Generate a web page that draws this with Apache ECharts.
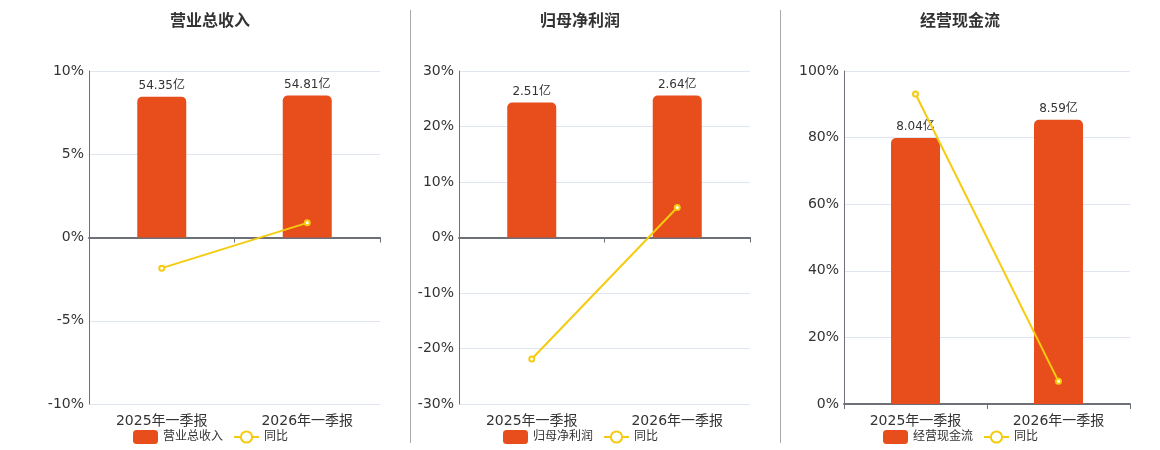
<!DOCTYPE html>
<html>
<head>
<meta charset="utf-8">
<script src="https://cdn.jsdelivr.net/npm/echarts@6/dist/echarts.min.js"></script>
<style>
html,body{margin:0;padding:0;background:#fff;}
#main{width:1160px;height:450px;}
</style>
</head>
<body>
<div id="main"></div>
<script>
var categories = ['2025年一季报', '2026年一季报'];
var titles = ['营业总收入', '归母净利润', '经营现金流'];
var revenue = [54.35, 54.81];
var revenueYoY = [-1.84, 0.88];
var profit = [2.51, 2.64];
var profitYoY = [-21.9, 5.4];
var cashflow = [8.04, 8.59];
var cashflowYoY = [93.1, 6.8];
var pctMin = [-10, -30, 0];
var pctMax = [10, 30, 100];
var pctInterval = [5, 10, 20];

var barColor = '#E84D1C';
var lineColor = '#F5CB0F';
var barSets = [revenue, profit, cashflow];
var yoySets = [revenueYoY, profitYoY, cashflowYoY];

var gridLeft = [89, 459, 844];
var gridWidth = [291, 291, 286];
var centers = [210, 580, 960];

var option = {
  animation: false,
  backgroundColor: '#fff',
  textStyle: {fontFamily: 'DejaVu Sans, Noto Sans CJK SC, sans-serif'},
  title: [], grid: [], xAxis: [], yAxis: [], series: [], legend: [],
  graphic: [
    {type: 'line', shape: {x1: 410.5, y1: 10, x2: 410.5, y2: 443}, style: {stroke: '#aaaaaa', lineWidth: 1}},
    {type: 'line', shape: {x1: 780.5, y1: 10, x2: 780.5, y2: 443}, style: {stroke: '#aaaaaa', lineWidth: 1}}
  ]
};

for (var i = 0; i < 3; i++) {
  option.title.push({
    text: titles[i], left: centers[i] - 40, top: 14, padding: 0,
    textStyle: {fontSize: 16, fontWeight: 'bold', color: '#333'}
  });
  option.grid.push({left: gridLeft[i], width: gridWidth[i], top: 71, height: 333});
  // label axis (bottom)
  option.xAxis.push({
    type: 'category', gridIndex: i, data: categories,
    axisLine: {show: false, onZero: false}, axisTick: {show: false},
    axisLabel: {fontSize: 14, color: '#333', margin: 10}
  });
  // line axis on zero
  option.xAxis.push({
    type: 'category', gridIndex: i, data: categories, position: 'bottom',
    axisLine: {show: true, onZero: true, onZeroAxisIndex: i * 2, lineStyle: {color: '#6e7079', width: 2}},
    axisTick: {show: true, lineStyle: {color: '#6e7079'}},
    axisLabel: {show: false}
  });
  option.yAxis.push({
    type: 'value', gridIndex: i, min: pctMin[i], max: pctMax[i], interval: pctInterval[i],
    axisLine: {show: true, lineStyle: {color: '#6e7079'}}, axisTick: {show: false},
    axisLabel: {formatter: '{value}%', fontSize: 14, color: '#333', margin: 5},
    splitLine: {lineStyle: {color: '#e0e6f1'}}
  });
  var bmax = Math.max.apply(null, barSets[i]) * 1.172;
  option.yAxis.push({
    type: 'value', gridIndex: i, min: pctMin[i] < 0 ? -bmax : 0, max: bmax, show: false,
    splitLine: {show: false}
  });
  option.series.push({
    name: titles[i], type: 'bar', xAxisIndex: i * 2, yAxisIndex: i * 2 + 1,
    data: barSets[i], barWidth: 49,
    itemStyle: {color: barColor, borderRadius: [5, 5, 0, 0]},
    label: {show: true, position: 'top', color: '#333', fontSize: 12,
      formatter: function (p) { return p.value + '亿'; }}
  });
  option.series.push({
    name: '同比', type: 'line', xAxisIndex: i * 2, yAxisIndex: i * 2,
    data: yoySets[i], symbol: 'emptyCircle', symbolSize: 5,
    lineStyle: {color: lineColor, width: 2},
    itemStyle: {color: lineColor, borderWidth: 1.5}, z: 5
  });
  option.legend.push({
    data: [titles[i], '同比'], left: centers[i] - 77, top: 430,
    itemWidth: 25, itemHeight: 14, itemGap: 10, padding: 0,
    textStyle: {fontSize: 12, color: '#333'}
  });
}

var chart = echarts.init(document.getElementById('main'));
chart.setOption(option);
</script>
</body>
</html>
